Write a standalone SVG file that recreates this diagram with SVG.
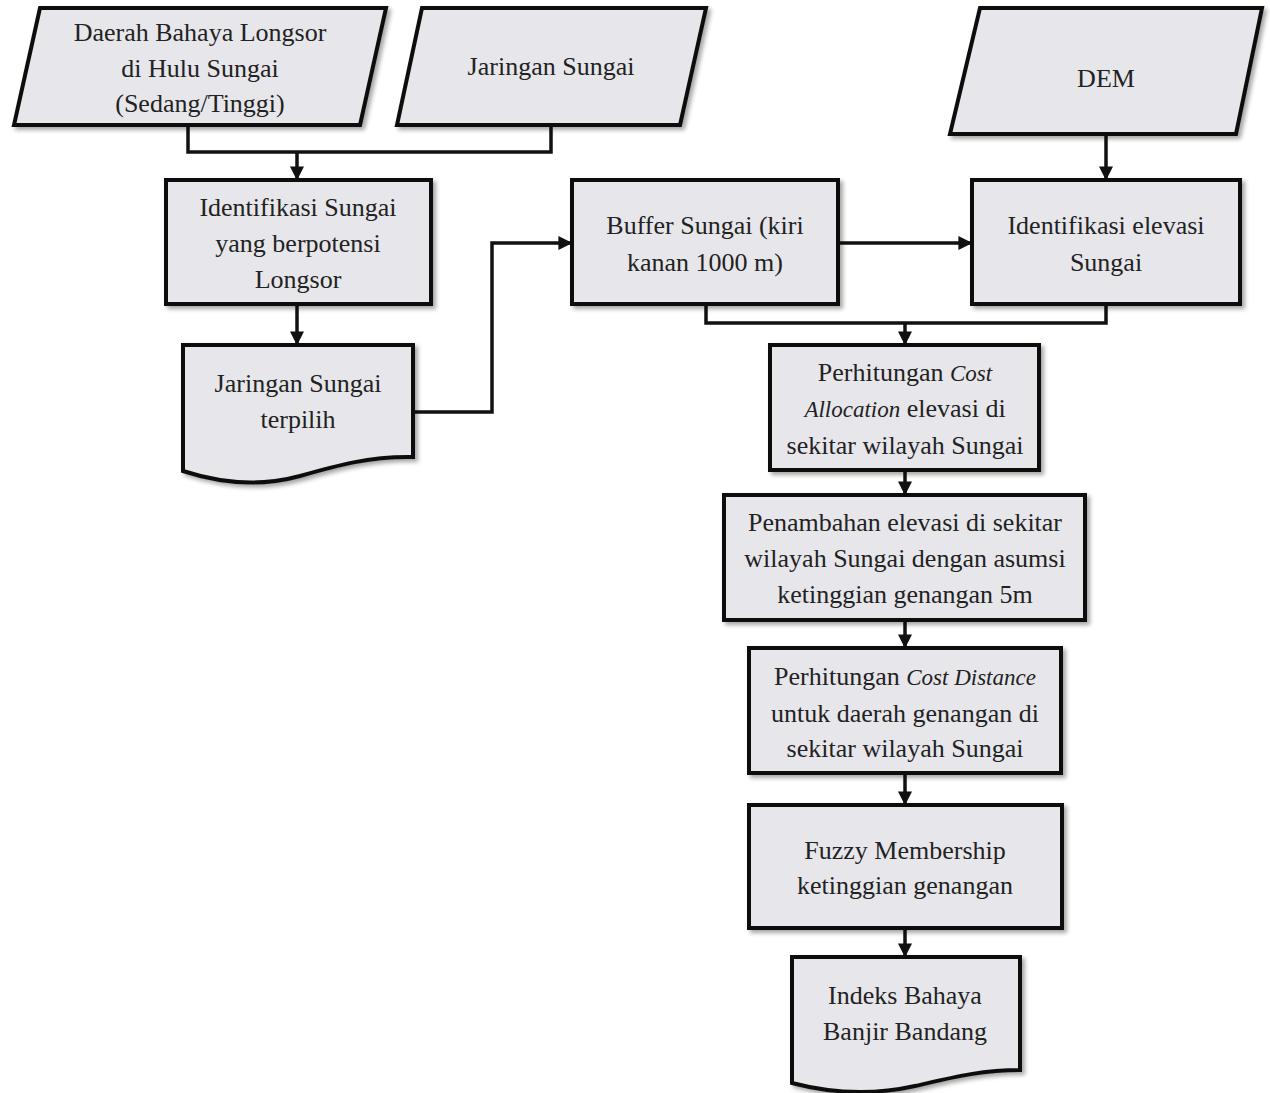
<svg xmlns="http://www.w3.org/2000/svg" width="1270" height="1093" viewBox="0 0 1270 1093">
<defs>
<style>
.n{fill:#e7e7eb;stroke:#111;stroke-width:4;stroke-linejoin:miter;filter:url(#sh)}
.t{font-family:"Liberation Serif","Times New Roman",serif;font-size:26px;fill:#222;text-anchor:middle}
.c{fill:none;stroke:#111;stroke-width:3.5}
.i{font-style:italic;font-size:23px}
</style>
<filter id="sh" x="-10%" y="-10%" width="125%" height="125%">
<feDropShadow dx="3" dy="3" stdDeviation="2" flood-color="#000" flood-opacity="0.35"/>
</filter>
<marker id="ah" viewBox="0 0 10 10" refX="9" refY="5" markerWidth="4" markerHeight="4" orient="auto" markerUnits="strokeWidth">
<path d="M0,0 L10,5 L0,10 Z" fill="#111"/>
</marker>
</defs>
<rect width="1270" height="1093" fill="#ffffff"/>

<g id="connectors">
<path class="c" d="M188,125 V152 H551 V125"/>
<path class="c" d="M297,152 V179" marker-end="url(#ah)"/>
<path class="c" d="M297,304 V344" marker-end="url(#ah)"/>
<path class="c" d="M413,412 H492 V243 H571" marker-end="url(#ah)"/>
<path class="c" d="M838,243 H971" marker-end="url(#ah)"/>
<path class="c" d="M1106,134 V179" marker-end="url(#ah)"/>
<path class="c" d="M706,304 V323 H1106 V304"/>
<path class="c" d="M905,323 V344" marker-end="url(#ah)"/>
<path class="c" d="M905,470 V494" marker-end="url(#ah)"/>
<path class="c" d="M905,620 V647" marker-end="url(#ah)"/>
<path class="c" d="M905,773 V804" marker-end="url(#ah)"/>
<path class="c" d="M905,928 V956" marker-end="url(#ah)"/>
</g>

<g id="n-daerah">
<polygon class="n" points="40,8 386,8 360,125 14,125"/>
<text class="t" x="200" y="41">Daerah Bahaya Longsor</text>
<text class="t" x="200" y="77">di Hulu Sungai</text>
<text class="t" x="200" y="112">(Sedang/Tinggi)</text>
</g>

<g id="n-jaringan">
<polygon class="n" points="422,8 706,8 680,125 397,125"/>
<text class="t" x="551" y="75">Jaringan Sungai</text>
</g>

<g id="n-dem">
<polygon class="n" points="980,8 1262,8 1236,134 950,134"/>
<text class="t" x="1106" y="87">DEM</text>
</g>

<g id="n-identifikasi">
<rect class="n" x="166" y="180" width="265" height="124"/>
<text class="t" x="298" y="216">Identifikasi Sungai</text>
<text class="t" x="298" y="252">yang berpotensi</text>
<text class="t" x="298" y="288">Longsor</text>
</g>

<g id="n-terpilih">
<path class="n" d="M183,345 H413 V457 C370,456 335,466 300,476 C260,487 220,483 183,471 Z"/>
<text class="t" x="298" y="392">Jaringan Sungai</text>
<text class="t" x="298" y="428">terpilih</text>
</g>

<g id="n-buffer">
<rect class="n" x="572" y="180" width="266" height="124"/>
<text class="t" x="705" y="234">Buffer Sungai (kiri</text>
<text class="t" x="705" y="271">kanan 1000 m)</text>
</g>

<g id="n-elevasi">
<rect class="n" x="972" y="180" width="268" height="124"/>
<text class="t" x="1106" y="234">Identifikasi elevasi</text>
<text class="t" x="1106" y="271">Sungai</text>
</g>

<g id="n-allocation">
<rect class="n" x="770" y="345" width="269" height="125"/>
<text class="t" x="905" y="381">Perhitungan <tspan class="i">Cost</tspan></text>
<text class="t" x="905" y="417"><tspan class="i">Allocation</tspan> elevasi di</text>
<text class="t" x="905" y="454">sekitar wilayah Sungai</text>
</g>

<g id="n-penambahan">
<rect class="n" x="724" y="495" width="361" height="125"/>
<text class="t" x="905" y="531">Penambahan elevasi di sekitar</text>
<text class="t" x="905" y="567">wilayah Sungai dengan asumsi</text>
<text class="t" x="905" y="603">ketinggian genangan 5m</text>
</g>

<g id="n-distance">
<rect class="n" x="749" y="648" width="312" height="125"/>
<text class="t" x="905" y="685">Perhitungan <tspan class="i">Cost Distance</tspan></text>
<text class="t" x="905" y="722">untuk daerah genangan di</text>
<text class="t" x="905" y="757">sekitar wilayah Sungai</text>
</g>

<g id="n-fuzzy">
<rect class="n" x="749" y="805" width="313" height="123"/>
<text class="t" x="905" y="859">Fuzzy Membership</text>
<text class="t" x="905" y="894">ketinggian genangan</text>
</g>

<g id="n-indeks">
<path class="n" d="M792,957 H1020 V1070 C980,1070 950,1078 915,1086 C870,1096 830,1093 792,1083 Z"/>
<text class="t" x="905" y="1004">Indeks Bahaya</text>
<text class="t" x="905" y="1040">Banjir Bandang</text>
</g>
</svg>
